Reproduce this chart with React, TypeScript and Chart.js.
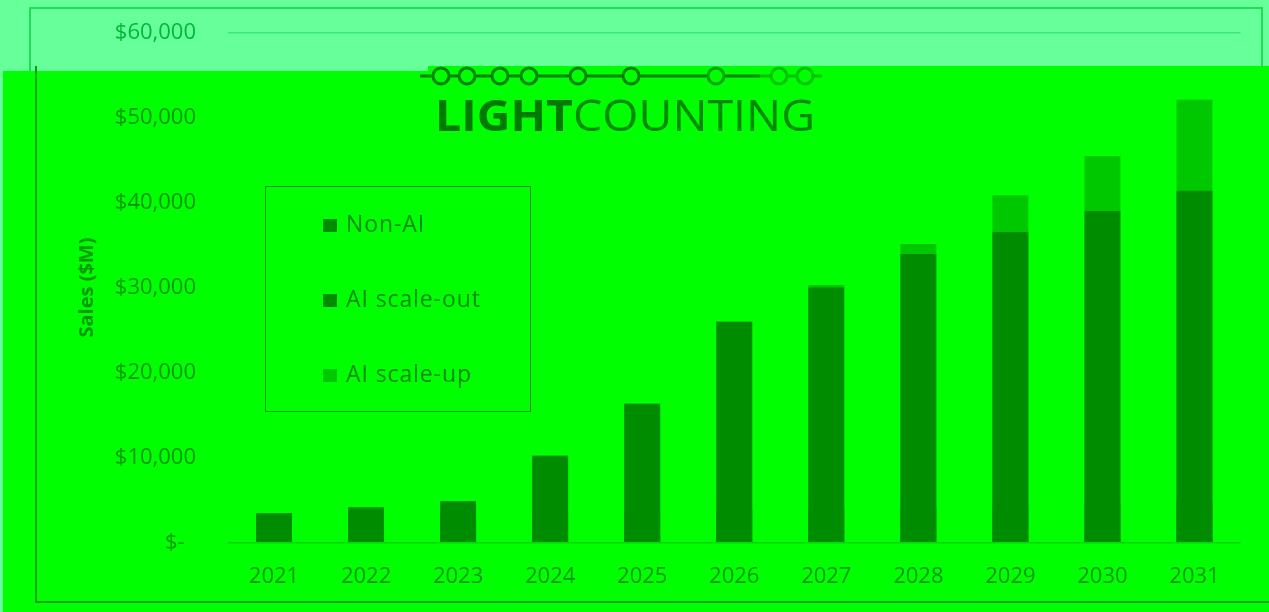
import React, { useEffect, useRef } from 'react';
import { Chart, registerables } from 'chart.js';

Chart.register(...registerables);

// ---- data ----
const years = ['2021', '2022', '2023', '2024', '2025', '2026', '2027', '2028', '2029', '2030', '2031'];
const nonAI = [3000, 3500, 3300, 3400, 3600, 3800, 4000, 4200, 4400, 4600, 4800];
const aiScaleOut = [450, 660, 1570, 6830, 12740, 22180, 26040, 29740, 32120, 34390, 36580];
const aiScaleUp = [0, 0, 0, 0, 0, 0, 250, 1170, 4320, 6470, 10690];
const seriesNames = ['Non-AI', 'AI scale-out', 'AI scale-up'];
const seriesColors = ['#008c00', '#008c00', '#00c800'];
const yMax = 60000;
const yStep = 10000;
const yTitle = 'Sales ($M)';
const logoBold = 'LIGHT';
const logoRegular = 'COUNTING';

const FONT = '"Open Sans", "Noto Sans", sans-serif';

const logoPlugin = {
  id: 'logo',
  afterDraw(chart: any) {
    const ctx = chart.ctx as CanvasRenderingContext2D;
    ctx.save();
    const ly = 76;
    ctx.lineWidth = 3;
    ctx.strokeStyle = '#008200';
    ctx.beginPath();
    ctx.moveTo(420, ly);
    ctx.lineTo(760, ly);
    ctx.stroke();
    ctx.strokeStyle = '#00c400';
    ctx.beginPath();
    ctx.moveTo(760, ly);
    ctx.lineTo(822, ly);
    ctx.stroke();
    const rings = [441, 467, 500, 529, 578, 631, 716, 779, 805];
    rings.forEach((cx, i) => {
      ctx.beginPath();
      ctx.arc(cx, ly, 8, 0, Math.PI * 2);
      ctx.fillStyle = '#00ff00';
      ctx.fill();
      ctx.strokeStyle = i < 6 ? '#008200' : i === 6 ? '#00a600' : '#00c400';
      ctx.stroke();
    });
    const size = 43;
    ctx.font = `700 ${size}px ${FONT}`;
    const wb = ctx.measureText(logoBold).width;
    ctx.font = `400 ${size}px ${FONT}`;
    const wr = ctx.measureText(logoRegular).width;
    const target = 380;
    const sx = target / (wb + wr);
    ctx.translate(435, 131);
    ctx.scale(sx, 1);
    ctx.textBaseline = 'alphabetic';
    ctx.textAlign = 'left';
    ctx.font = `700 ${size}px ${FONT}`;
    ctx.fillStyle = '#007a00';
    ctx.fillText(logoBold, 0, 0);
    ctx.font = `400 ${size}px ${FONT}`;
    ctx.fillStyle = '#008800';
    ctx.fillText(logoRegular, wb, 0);
    ctx.restore();
  },
};

export default function App() {
  const canvasRef = useRef<HTMLCanvasElement | null>(null);

  useEffect(() => {
    document.body.style.margin = '0';
    const canvas = canvasRef.current;
    if (!canvas) return;
    // cumulative tops so that same-coloured segments overlap without seams
    const cumOut = nonAI.map((v, i) => v + aiScaleOut[i]);
    const cumUp = cumOut.map((v, i) => v + aiScaleUp[i]);
    const seriesData = [nonAI, cumOut, cumUp];
    const chart = new Chart(canvas, {
      type: 'bar',
      data: {
        labels: years,
        datasets: seriesNames.map((name, i) => ({
          label: name,
          data: seriesData[i],
          backgroundColor: seriesColors[i],
          borderWidth: 0,
          grouped: false,
          categoryPercentage: 1,
          barPercentage: 0.39,
        })),
      },
      options: {
        animation: false,
        responsive: false,
        maintainAspectRatio: false,
        layout: { padding: { top: 32.3, right: 28.5, bottom: 0, left: 0 } },
        plugins: {
          legend: { display: false },
          tooltip: { enabled: false },
        },
        scales: {
          x: {
            grid: { display: false, drawTicks: false },
            border: { display: false },
            ticks: {
              color: '#009600',
              font: { family: FONT, size: 22 },
              padding: 21,
            },
            afterFit: (scale: any) => {
              scale.height = 69.3;
              scale.paddingLeft = 0;
              scale.paddingRight = 0;
            },
          },
          y: {
            min: 0,
            max: yMax,
            grid: {
              drawTicks: false,
              tickLength: 0,
              lineWidth: 1.5,
              color: (c: any) =>
                c.tick && c.tick.value === yMax
                  ? '#3ae87c'
                  : c.tick && c.tick.value === 0
                  ? '#00d800'
                  : 'rgba(0,0,0,0)',
            },
            border: { display: false },
            title: {
              display: true,
              text: yTitle,
              color: '#009a00',
              font: { family: FONT, size: 20, weight: 'bold' },
              padding: { top: 75, bottom: 0 },
            },
            ticks: {
              stepSize: yStep,
              padding: 32,
              color: (c: any) => (c.tick && c.tick.value === yMax ? '#00b838' : '#009600'),
              font: { family: FONT, size: 22 },
              callback: (v: any) => (Number(v) === 0 ? '$-  ' : '$' + Number(v).toLocaleString('en-US')),
            },
            afterFit: (scale: any) => {
              scale.width = 228;
              scale.paddingTop = 0;
              scale.paddingBottom = 0;
            },
          },
        },
      },
      plugins: [logoPlugin],
    });
    return () => chart.destroy();
  }, []);

  return (
    <div style={{ position: 'relative', width: 1269, height: 612, background: '#66ff99', overflow: 'hidden' }}>
      <div
        style={{
          position: 'absolute',
          left: 29,
          top: 7,
          width: 1234,
          height: 120,
          border: '2px solid #22dc58',
          boxSizing: 'border-box',
        }}
      />
      <div style={{ position: 'absolute', left: 3, top: 71, width: 426, height: 541, background: '#00ff00' }} />
      <div style={{ position: 'absolute', left: 428, top: 66, width: 841, height: 546, background: '#00ff00' }} />
      <div
        style={{
          position: 'absolute',
          left: 35,
          top: 66,
          width: 1240,
          height: 537,
          borderLeft: '2px solid #00a400',
          borderBottom: '2px solid #00a400',
          boxSizing: 'border-box',
        }}
      />
      <canvas ref={canvasRef} width={1269} height={612} style={{ position: 'absolute', left: 0, top: 0 }} />
      <div
        style={{
          position: 'absolute',
          left: 265,
          top: 186,
          width: 266,
          height: 226,
          border: '1.5px solid #009000',
          boxSizing: 'border-box',
          fontFamily: FONT,
        }}
      >
        {seriesNames.map((name, i) => (
          <div
            key={name}
            style={{
              position: 'absolute',
              left: 57,
              top: 21 + i * 75,
              height: 30,
              display: 'flex',
              alignItems: 'center',
              whiteSpace: 'nowrap',
            }}
          >
            <span
              style={{
                display: 'inline-block',
                width: 14,
                height: 13,
                marginTop: 4,
                background: seriesColors[i],
                marginRight: 9,
              }}
            />
            <span style={{ fontSize: 23, color: '#008a00', letterSpacing: 0.9 }}>{name}</span>
          </div>
        ))}
      </div>
    </div>
  );
}
